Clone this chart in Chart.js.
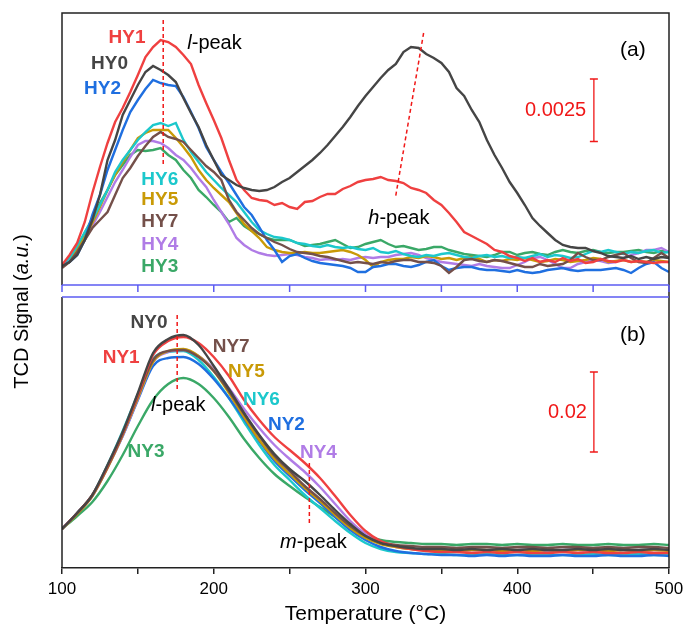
<!DOCTYPE html>
<html>
<head>
<meta charset="utf-8">
<script src="https://cdn.jsdelivr.net/npm/chart.js@4.4.1/dist/chart.umd.min.js"></script>
<style>
  html, body { margin: 0; padding: 0; background: #fff; }
  canvas { display: block; }
</style>
</head>
<body>
<canvas id="tpdChart" width="686" height="625"></canvas>
<script>
// TCD signal, units of 1e-5 a.u. (each panel has its own baseline offset)
// panel (a): HY samples, every 5 °C from 100 to 500
const tempsA = Array.from({ length: 81 }, (_, i) => 100 + 5 * i);
const hy0 = [76,92,120,180,260,360,500,580,680,740,
  800,852,876,860,840,812,748,688,632,560,
  500,440,420,400,388,380,376,380,392,412,
  428,452,476,500,528,560,596,632,672,716,
  756,792,828,860,884,932,952,948,924,908,
  888,852,788,756,700,652,580,520,468,412,
  368,320,268,236,208,180,160,152,148,148,
  136,128,116,112,108,116,104,112,104,112,108];
const hy1 = [80,120,168,252,368,472,568,652,708,772,
  840,912,952,980,972,952,920,884,800,728,
  660,588,500,420,380,348,340,336,320,328,
  312,304,332,336,352,364,364,384,396,412,
  420,424,432,420,416,408,388,380,368,340,
  320,288,252,212,196,180,164,140,132,116,
  108,96,108,92,100,92,108,96,104,88,
  92,104,96,92,100,92,96,92,88,92,92];
const hy2 = [76,92,120,180,280,360,460,540,620,692,
  740,784,820,808,800,796,752,692,628,552,
  500,452,408,360,312,280,232,180,140,92,
  116,124,108,96,88,84,80,76,68,52,
  52,72,76,84,84,76,72,80,92,100,
  76,60,68,72,72,64,60,60,56,52,
  60,52,48,52,60,64,68,60,56,60,
  60,60,64,68,60,48,68,84,92,68,52];
const hy3 = [76,108,148,208,268,328,380,440,480,520,
  540,536,540,548,520,500,460,428,380,352,
  320,292,252,268,236,216,204,188,180,180,
  180,168,156,160,164,172,180,164,148,152,
  164,172,180,164,152,156,148,140,144,152,
  152,140,132,124,120,116,112,120,132,132,
  120,128,132,124,120,132,140,132,128,136,
  140,132,128,132,132,136,140,132,128,136,132];
const hy4 = [76,96,132,180,236,292,352,412,460,512,
  560,576,576,568,548,520,500,468,428,392,
  340,292,244,188,160,140,128,120,116,120,
  124,120,112,108,100,104,100,104,100,108,
  112,108,112,112,120,124,128,120,108,100,
  92,88,84,80,76,84,76,72,68,68,
  80,92,108,112,100,84,68,68,84,92,
  100,96,88,92,108,120,128,140,140,148,132];
const hy5 = [72,92,140,192,248,312,380,440,492,540,
  588,608,620,620,620,588,552,512,460,420,
  388,360,332,288,244,216,188,152,140,132,
  128,128,132,128,128,132,136,140,132,120,
  100,72,92,100,104,104,112,108,116,112,
  104,108,100,108,112,104,92,100,96,104,
  100,108,100,92,96,104,100,92,96,100,
  108,104,92,96,100,92,96,92,100,96,92];
const hy6 = [80,108,156,212,260,320,380,452,500,540,
  580,612,640,648,636,648,580,532,492,452,
  420,388,360,332,292,252,220,204,192,188,
  180,168,164,156,152,160,152,148,152,144,
  140,148,132,128,136,124,116,112,120,116,
  124,128,120,112,108,116,120,112,116,108,
  112,108,116,124,112,120,116,108,112,124,
  136,132,140,132,124,132,128,136,140,128,132];
const hy7 = [68,92,132,180,228,260,292,360,428,468,
  516,556,592,612,592,584,572,540,508,476,
  452,420,340,292,260,228,204,188,172,160,
  144,132,128,124,116,112,104,96,88,92,
  88,84,92,88,96,100,100,92,92,88,
  76,48,72,100,104,96,92,100,96,88,
  80,72,72,84,76,80,84,100,128,112,
  100,100,112,120,128,108,92,88,108,128,108];

// panel (b): NY samples, every 10 °C from 100 to 500
const tempsB = Array.from({ length: 41 }, (_, i) => 100 + 10 * i);
const ny0 = [975,1375,1825,2575,3400,4375,5375,5725,5825,5575, 5050,4475,3875,3325,2850,2475,2175,1825,1450,1100, 800,625,550,500,475,475,450,475,450,475, 450,475,450,450,475,450,475,450,450,475,450];
const ny1 = [975,1375,1825,2550,3375,4325,5325,5675,5775,5625, 5275,4800,4200,3700,3275,2950,2625,2250,1800,1325, 925,675,550,475,425,400,400,375,400,375, 400,375,375,400,375,400,375,375,400,375,375];
const ny2 = [975,1375,1800,2525,3300,4200,5050,5250,5275,5100, 4725,4250,3725,3175,2675,2300,1950,1625,1275,950, 700,525,425,375,350,325,325,300,325,300, 325,300,300,325,300,300,325,300,300,325,300];
const ny3 = [975,1300,1650,2175,2825,3550,4200,4600,4750,4600, 4250,3775,3225,2750,2350,2050,1775,1525,1275,1025, 825,700,650,625,600,600,575,600,600,575, 600,575,575,600,575,575,600,575,575,600,575];
const ny4 = [975,1375,1800,2500,3300,4225,5150,5400,5450,5300, 4975,4500,3975,3500,3075,2725,2400,2025,1600,1175, 850,625,525,475,450,450,425,450,450,425, 450,450,425,450,450,425,450,450,425,450,450];
const ny5 = [975,1350,1800,2500,3325,4250,5150,5425,5475,5300, 4925,4375,3775,3200,2725,2350,2000,1675,1325,1000, 750,600,525,475,450,450,425,450,450,425, 450,425,450,425,450,450,425,450,425,450,425];
const ny6 = [975,1375,1825,2575,3425,4350,5225,5400,5425,5200, 4775,4250,3650,3075,2575,2200,1825,1500,1175,875, 625,475,400,375,350,350,325,325,350,325, 325,350,325,325,325,350,325,325,350,325,325];
const ny7 = [975,1375,1825,2525,3350,4300,5200,5425,5450,5275, 4925,4425,3850,3300,2800,2425,2050,1725,1375,1050, 800,650,575,550,525,525,500,525,525,500, 525,525,500,525,525,500,525,500,525,525,500];

const tempTicks = [100, 200, 300, 400, 500];

const colors = {
  s0: '#454545', s1: '#ef4040', s2: '#1f6fe0', s3: '#3aa867',
  s4: '#b07ce6', s5: '#c99a06', s6: '#1cc8cc', s7: '#74504a'
};

const FONT = '"Liberation Sans", Arial, sans-serif';

function series(label, temps, vals, color, axis, smooth) {
  return {
    label,
    data: temps.map((t, i) => ({ x: t, y: vals[i] })),
    yAxisID: axis,
    borderColor: color,
    borderWidth: 2.4,
    pointRadius: 0,
    tension: smooth ? 0.4 : 0,
    cubicInterpolationMode: smooth ? 'monotone' : 'default',
    fill: false
  };
}

// panel (a) occupies value 0..1088 of yTop, panel (b) 0..6775 of yBot
const panelsPlugin = {
  id: 'panels',
  afterDatasetsDraw(chart) {
    const { ctx, chartArea: a, scales: { x, yTop, yBot } } = chart;
    const px = t => x.getPixelForValue(t);
    const pa = v => yTop.getPixelForValue(v);
    const pb = v => yBot.getPixelForValue(v);
    const yA = pa(0);
    const yB = pb(6775);

    ctx.save();
    // frame
    ctx.strokeStyle = '#222';
    ctx.lineWidth = 1.5;
    ctx.beginPath();
    ctx.moveTo(a.left, yA); ctx.lineTo(a.left, a.top);
    ctx.lineTo(a.right, a.top); ctx.lineTo(a.right, a.bottom);
    ctx.moveTo(a.left, yB); ctx.lineTo(a.left, a.bottom);
    ctx.stroke();

    // blue axis break
    ctx.strokeStyle = '#5c5cf2';
    ctx.beginPath();
    ctx.moveTo(a.left, yA); ctx.lineTo(a.right, yA);
    ctx.moveTo(a.left, yB); ctx.lineTo(a.right, yB);
    for (let t = 100; t <= 500; t += 50) {
      ctx.moveTo(px(t), yA); ctx.lineTo(px(t), yA + 7);
    }
    ctx.stroke();

    // dashed markers
    ctx.strokeStyle = '#f01818';
    ctx.lineWidth = 1.5;
    ctx.setLineDash([4, 3]);
    ctx.beginPath();
    ctx.moveTo(px(166.7), pa(1060)); ctx.lineTo(px(166.7), pa(480));
    ctx.moveTo(px(338.3), pa(1008)); ctx.lineTo(px(319.8), pa(352));
    ctx.moveTo(px(175.9), pb(6325)); ctx.lineTo(px(175.9), pb(4450));
    ctx.moveTo(px(263), pb(2625)); ctx.lineTo(px(263), pb(1125));
    ctx.stroke();
    ctx.setLineDash([]);

    // scale bars
    const bar = (xp, y1, y2) => {
      ctx.beginPath();
      ctx.moveTo(xp, y1); ctx.lineTo(xp, y2);
      ctx.moveTo(xp - 4, y1); ctx.lineTo(xp + 4, y1);
      ctx.moveTo(xp - 4, y2); ctx.lineTo(xp + 4, y2);
      ctx.stroke();
    };
    ctx.strokeStyle = '#f01818';
    ctx.lineWidth = 1.3;
    bar(px(450.5), pa(824), pa(574));
    bar(px(450.5), pb(4900), pb(2900));

    const text = (str, xp, yp, color, font, align) => {
      ctx.font = font;
      ctx.fillStyle = color;
      ctx.textAlign = align || 'center';
      ctx.textBaseline = 'middle';
      ctx.fillText(str, xp, yp);
    };
    const rich = (first, rest, xp, yp) => {
      ctx.font = 'italic 20px ' + FONT;
      const w1 = ctx.measureText(first).width;
      ctx.font = '20px ' + FONT;
      const w2 = ctx.measureText(rest).width;
      const x0 = xp - (w1 + w2) / 2;
      text(first, x0, yp, '#000', 'italic 20px ' + FONT, 'left');
      text(rest, x0 + w1, yp, '#000', '20px ' + FONT, 'left');
    };

    const bold = 'bold 19px ' + FONT;
    // panel (a) labels
    text('HY1', px(142.9), pa(988), colors.s1, bold);
    text('HY0', px(131.3), pa(884), colors.s0, bold);
    text('HY2', px(126.7), pa(784), colors.s2, bold);
    text('HY6', px(164.4), pa(420), colors.s6, bold);
    text('HY5', px(164.4), pa(340), colors.s5, bold);
    text('HY7', px(164.4), pa(252), colors.s7, bold);
    text('HY4', px(164.4), pa(160), colors.s4, bold);
    text('HY3', px(164.4), pa(72), colors.s3, bold);
    rich('l', '-peak', px(200.5), pa(968));
    rich('h', '-peak', px(322), pa(268));
    text('(a)', px(476.2), pa(940), '#000', '21px ' + FONT);
    text('0.0025', px(445.4), pa(700), '#f01818', '20px ' + FONT, 'right');

    // panel (b) labels
    text('NY0', px(157.4), pb(6125), colors.s0, bold);
    text('NY1', px(139), pb(5250), colors.s1, bold);
    text('NY7', px(211.5), pb(5525), colors.s7, bold);
    text('NY5', px(221.5), pb(4900), colors.s5, bold);
    text('NY6', px(231.4), pb(4200), colors.s6, bold);
    text('NY2', px(247.9), pb(3575), colors.s2, bold);
    text('NY4', px(269), pb(2875), colors.s4, bold);
    text('NY3', px(155.4), pb(2900), colors.s3, bold);
    rich('l', '-peak', px(176.6), pb(4075));
    rich('m', '-peak', px(265.7), pb(650));
    text('(b)', px(476.2), pb(5825), '#000', '21px ' + FONT);
    text('0.02', px(445.9), pb(3900), '#f01818', '20px ' + FONT, 'right');

    // y axis title
    ctx.translate(22, (a.top + a.bottom) / 2 + 21);
    ctx.rotate(-Math.PI / 2);
    const parts = [['TCD Signal (', ''], ['a.u.', 'italic '], [')', '']];
    let total = 0;
    parts.forEach(p => { ctx.font = p[1] + '20px ' + FONT; total += ctx.measureText(p[0]).width; });
    let cx = -total / 2;
    parts.forEach(p => {
      ctx.font = p[1] + '20px ' + FONT;
      ctx.fillStyle = '#000';
      ctx.textAlign = 'left';
      ctx.textBaseline = 'middle';
      ctx.fillText(p[0], cx, 0);
      cx += ctx.measureText(p[0]).width;
    });
    ctx.restore();
  }
};

document.addEventListener('DOMContentLoaded', () => {
  const ctx = document.getElementById('tpdChart');

  new Chart(ctx, {
    type: 'line',
    data: {
      datasets: [
        series('HY0', tempsA, hy0, colors.s0, 'yTop', false),
        series('HY1', tempsA, hy1, colors.s1, 'yTop', false),
        series('HY7', tempsA, hy7, colors.s7, 'yTop', false),
        series('HY2', tempsA, hy2, colors.s2, 'yTop', false),
        series('HY6', tempsA, hy6, colors.s6, 'yTop', false),
        series('HY5', tempsA, hy5, colors.s5, 'yTop', false),
        series('HY4', tempsA, hy4, colors.s4, 'yTop', false),
        series('HY3', tempsA, hy3, colors.s3, 'yTop', false),
        series('NY0', tempsB, ny0, colors.s0, 'yBot', true),
        series('NY1', tempsB, ny1, colors.s1, 'yBot', true),
        series('NY7', tempsB, ny7, colors.s7, 'yBot', true),
        series('NY5', tempsB, ny5, colors.s5, 'yBot', true),
        series('NY4', tempsB, ny4, colors.s4, 'yBot', true),
        series('NY2', tempsB, ny2, colors.s2, 'yBot', true),
        series('NY6', tempsB, ny6, colors.s6, 'yBot', true),
        series('NY3', tempsB, ny3, colors.s3, 'yBot', true)
      ]
    },
    options: {
      responsive: false,
      devicePixelRatio: 1,
      animation: false,
      layout: { padding: { left: 62, right: 17, top: 13, bottom: 0 } },
      plugins: {
        legend: { display: false },
        tooltip: { enabled: false }
      },
      scales: {
        x: {
          type: 'linear',
          min: 100,
          max: 500,
          // end labels may overhang: the layout padding already leaves room
          afterFit: scale => { scale.paddingLeft = 0; scale.paddingRight = 0; },
          grid: { drawOnChartArea: false, drawTicks: true, tickLength: 6, color: '#222', lineWidth: 1.5 },
          border: { display: true, color: '#222', width: 1.5 },
          ticks: {
            stepSize: 50,
            autoSkip: false,
            maxRotation: 0,
            padding: 6.5,
            color: '#000',
            font: { family: FONT, size: 17, lineHeight: 1 },
            callback: v => (tempTicks.includes(v) ? String(v) : '')
          },
          title: {
            display: true,
            text: 'Temperature (°C)',
            color: '#000',
            font: { family: FONT, size: 21, lineHeight: 1 },
            padding: { top: 0, bottom: 0 }
          }
        },
        // 4 units per pixel, panel (a) is the upper 272 px of the 555 px area
        yTop: { type: 'linear', display: false, min: -1132, max: 1088 },
        // 25 units per pixel, panel (b) is the lower 271 px
        yBot: { type: 'linear', display: false, min: 0, max: 13875 }
      }
    },
    plugins: [panelsPlugin]
  });
});
</script>
</body>
</html>
